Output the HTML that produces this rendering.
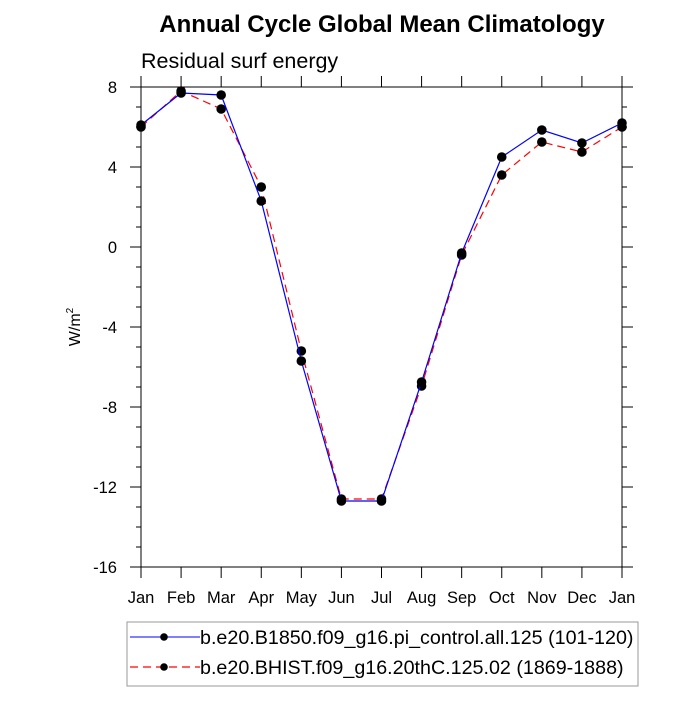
<!DOCTYPE html>
<html><head><meta charset="utf-8"><style>
body{margin:0;background:#fff;}
svg text{font-family:"Liberation Sans",sans-serif;}
</style></head><body>
<svg id="chart" width="700" height="700" viewBox="0 0 700 700">
<text x="382" y="32" text-anchor="middle" font-size="24" font-weight="bold">Annual Cycle Global Mean Climatology</text>
<text x="141" y="68" font-size="21.5">Residual surf energy</text>
<text transform="translate(80,327) rotate(-90)" text-anchor="middle" font-size="16">W/m<tspan dy="-7" font-size="10">2</tspan></text>
<g id="axes"></g>
<g id="series"></g>
<g>
<rect x="127" y="622" width="511" height="64" fill="#fff" stroke="#999" stroke-width="1"/>
<g>
<line x1="130" y1="637" x2="200" y2="637" stroke="#0000ff" stroke-width="1"/>
<circle cx="164" cy="637" r="3.8" fill="#000"/>
<text x="200" y="644" font-size="19.7">b.e20.B1850.f09_g16.pi_control.all.125 (101-120)</text>
</g>
<g>
<line x1="130" y1="667" x2="200" y2="667" stroke="#ff0000" stroke-width="1.2" stroke-dasharray="8,5"/>
<circle cx="164" cy="667" r="3.8" fill="#000"/>
<text x="200" y="674" font-size="19.7">b.e20.BHIST.f09_g16.20thC.125.02 (1869-1888)</text>
</g>
</g>
</svg>
<script>
const months = ["Jan","Feb","Mar","Apr","May","Jun","Jul","Aug","Sep","Oct","Nov","Dec","Jan"];
const yTicks = [8,4,0,-4,-8,-12,-16];
const seriesB1850 = [6.1,7.7,7.6,2.3,-5.7,-12.7,-12.7,-6.75,-0.3,4.5,5.85,5.2,6.2];
const seriesBHIST = [6.0,7.8,6.9,3.0,-5.2,-12.6,-12.6,-6.95,-0.4,3.6,5.25,4.75,6.0];
const NS="http://www.w3.org/2000/svg";
const L=141,R=622,T=87,B=567,ymin=-16,ymax=8;
const xs=i=>L+(R-L)*i/(months.length-1);
const ys=v=>B-(v-ymin)/(ymax-ymin)*(B-T);
function mk(tag,at,parent){const e=document.createElementNS(NS,tag);for(const k in at)e.setAttribute(k,at[k]);parent.appendChild(e);return e;}
const ax=document.getElementById('axes');
const frame=mk('rect',{x:L,y:T,width:R-L,height:B-T,fill:'none',stroke:'#000','stroke-width':1},ax);


months.forEach((m,i)=>{
  const x=xs(i);
  mk('line',{x1:x,y1:B,x2:x,y2:B+11,stroke:'#000'},ax);
  mk('line',{x1:x,y1:T,x2:x,y2:T-11,stroke:'#000'},ax);
  const t=mk('text',{x:x,y:B+36,'text-anchor':'middle','font-size':16.5},ax);
  t.textContent=m;
  
  
});
for(let v=ymin;v<=ymax;v+=1){
  const y=ys(v);const major=(v%4===0);const len=major?11:5;
  mk('line',{x1:L,y1:y,x2:L-len,y2:y,stroke:'#000'},ax);
  mk('line',{x1:R,y1:y,x2:R+len,y2:y,stroke:'#000'},ax);
}
yTicks.forEach(v=>{
  const t=mk('text',{x:117,y:ys(v)+6,'text-anchor':'end','font-size':16.5},ax);
  t.textContent=String(v);
  
  
});
const sg=document.getElementById('series');
function draw(vals,color,dash,name){
  const g=mk('g',{},sg);
  
  
  const pts=vals.map((v,i)=>xs(i)+','+ys(v)).join(' ');
  const pl=mk('polyline',{points:pts,fill:'none',stroke:color,'stroke-width':1.2},g);
  if(dash)pl.setAttribute('stroke-dasharray',dash);
  
  
  vals.forEach((v,i)=>{
    const c=mk('circle',{cx:xs(i),cy:ys(v),r:4.8,fill:'#000'},g);
    
    
  });
}
draw(seriesBHIST,'#ff0000','8,5','series-bhist');
draw(seriesB1850,'#0000ff',null,'series-b1850');
</script>
</body></html>
